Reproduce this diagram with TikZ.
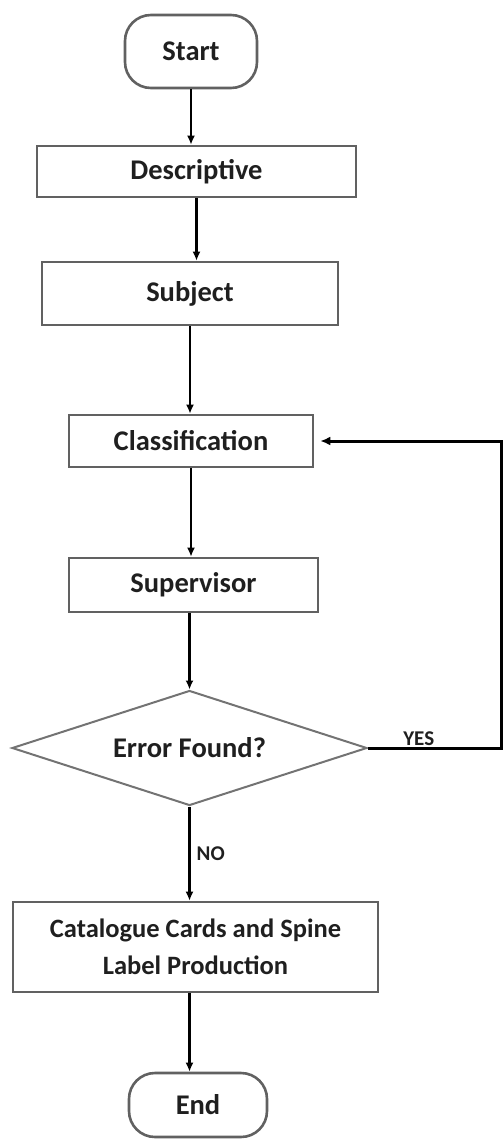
\documentclass[tikz,border=0pt]{standalone}
\usepackage{fontspec}
\setmainfont{Carlito}
\usetikzlibrary{arrows.meta,shapes.geometric}
\tikzset{
	box/.style={draw=black!62, line width=2.6pt, rectangle, inner sep=0pt, text=black!88, font=\bfseries\fontsize{28.5}{37}\selectfont, align=center},
	term/.style={box, rounded corners=26pt},
	decision/.style={draw=black!55, line width=2pt, diamond, aspect=3, inner sep=0pt, text=black!88, font=\bfseries\fontsize{28.5}{37}\selectfont},
	flow/.style={line width=2.4pt, -{Latex[length=9pt,width=8pt]}},
	back/.style={line width=3pt, -{Latex[length=10pt,width=9pt]}},
	tag/.style={font=\bfseries\fontsize{21}{24}\selectfont, text=black!88, inner sep=1pt}
}

\begin{document}
\begin{tikzpicture}[x=1pt, y=-1pt]
			%%%%% START %%%%%
			\useasboundingbox (0, 0) rectangle (503, 1140);
			
			\node[term, minimum width=132pt, minimum height=73pt] (start) at (191, 51.5) {Start};
			\node[box, minimum width=319pt, minimum height=51pt] (desc) at (196.5, 171.5) {Descriptive};
			\node[box, minimum width=296pt, minimum height=63pt] (subj) at (190, 293.5) {Subject};
			\node[box, minimum width=244pt, minimum height=52pt] (cls) at (191, 441) {Classification};
			\node[box, minimum width=249pt, minimum height=54pt] (sup) at (193.5, 585) {Supervisor};
			\node[decision, minimum width=355pt, minimum height=115pt] (err) at (189.5, 748) {Error Found?};
			\node[box, minimum width=365pt, minimum height=90pt, font=\bfseries\fontsize{26.5}{37}\selectfont] (cat) at (195.5, 947) {Catalogue Cards and Spine\\Label Production};
			\node[term, minimum width=138pt, minimum height=64pt] (stop) at (198, 1105) {End};
			
			\draw[flow] (start.south) -- (start.south |- desc.north);
			\draw[flow] (desc.south) -- (desc.south |- subj.north);
			\draw[flow] (subj.south) -- (subj.south |- cls.north);
			\draw[flow] (cls.south) -- (cls.south |- sup.north);
			\draw[flow] (sup.south -| err.north) -- (err.north);
			\draw[flow] (err.south) -- node[tag, right, inner sep=6pt, pos=0.5] (no) {NO} (err.south |- cat.north);
			\draw[flow] (cat.south -| err.south) -- (err.south |- stop.north);
			
			\coordinate (loopR) at (501.5, 748);
			\draw[back, shorten >=6pt] (err.east) -- node[tag, above, pos=0.38] (yes) {YES} (loopR) |- (cls.east);
			
			%%%%% END %%%%%
		\end{tikzpicture}
\end{document}
